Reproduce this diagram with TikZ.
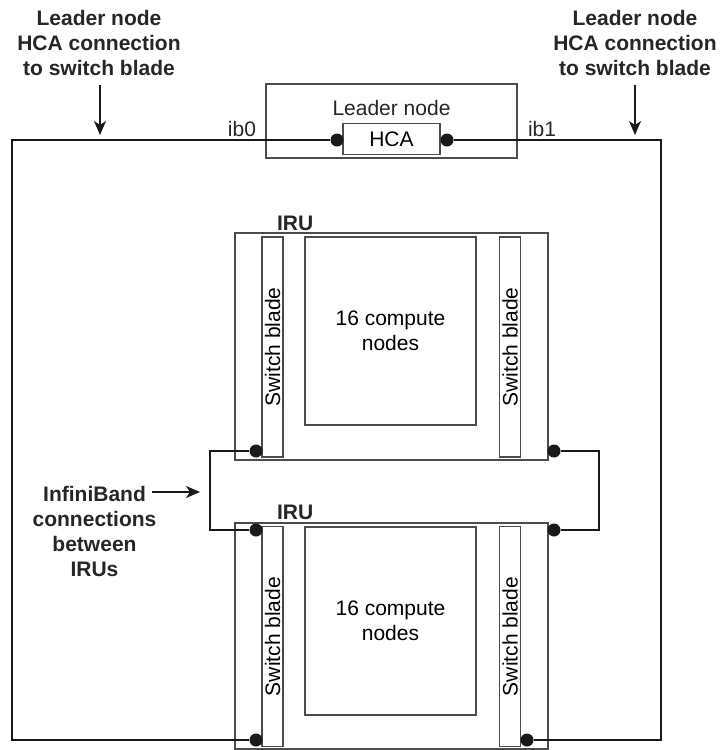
\documentclass[tikz,border=0pt]{standalone}
\usepackage{fontspec}
\setmainfont{Liberation Sans}
\usepackage{tikz}
\usetikzlibrary{arrows.meta,positioning,shapes,calc}

\tikzset{
  box/.style = {draw = black!70, line width = .6pt, inner sep = 0pt, font = \fontsize{10.5}{12.5}\selectfont, align = center},
  blade/.style = {box, rotate = 90, minimum width = 110pt, minimum height = 10.5pt},
  dot/.style = {circle, fill = black!90, inner sep = 0pt, minimum size = 6.5pt},
  wire/.style = {draw = black!90, line width = .75pt},
  arr/.style = {wire, -{Stealth[length = 7pt, width = 6pt, inset = 2pt]}},
  title/.style = {align = center, font = \fontsize{10.5}{12.5}\selectfont\bfseries, text = black!85},
  plain/.style = {font = \fontsize{10.5}{12.5}\selectfont, text = black!85}
}

\begin{document}
\begin{tikzpicture}[x = .5pt, y = -.5pt]
    \useasboundingbox (0,0) rectangle (719,750);
    % leader node with its HCA
    \node[box, minimum width = 125.5pt, minimum height = 37pt] (leader) at (391.5,121) {};
    \node[plain] (leadertxt) at (391.5,108) {Leader node};
    \node[box, minimum width = 48.5pt, minimum height = 15.5pt] (hca) at (391.5,139) {HCA};
    \node[dot] (ib0) at (337,140) {};
    \node[dot] (ib1) at (447,140) {};
    \node[plain, anchor = east] (ib0txt) at (263,129) {ib0};
    \node[plain, anchor = west] (ib1txt) at (521,129) {ib1};
    % upper IRU
    \node[box, minimum width = 156.5pt, minimum height = 113.5pt] (irua) at (391.5,346.5) {};
    \node[title, anchor = west] (iruatxt) at (270,223) {IRU};
    \node[blade] (bladeal) at (272.5,347) {Switch blade};
    \node[blade] (bladear) at (510,347) {Switch blade};
    \node[box, minimum width = 85.5pt, minimum height = 94pt] (compa) at (390.5,331) {16 compute\\nodes};
    \node[dot] (dotal) at (256,451) {};
    \node[dot] (dotar) at (554,451) {};
    % lower IRU
    \node[box, minimum width = 156.5pt, minimum height = 113pt] (irub) at (391.5,636) {};
    \node[title, anchor = west] (irubtxt) at (270,512) {IRU};
    \node[blade] (bladebl) at (272.5,636.5) {Switch blade};
    \node[blade] (bladebr) at (510,636.5) {Switch blade};
    \node[box, minimum width = 85.5pt, minimum height = 94pt] (compb) at (390.5,621) {16 compute\\nodes};
    \node[dot] (dotbl) at (256,530) {};
    \node[dot] (dotbr) at (554,530) {};
    \node[dot] (dotcl) at (256,740) {};
    \node[dot] (dotcr) at (527,740) {};
    % corners of the wiring
    \coordinate (tl) at (12,140);
    \coordinate (tr) at (661,140);
    \coordinate (bl) at (12,740);
    \coordinate (br) at (661,740);
    \coordinate (jl) at (210,490);
    \coordinate (jr) at (599,490);
    % wiring
    \draw[wire] (ib0) -- (tl) -- (bl) -- (dotcl);
    \draw[wire] (ib1) -- (tr) -- (br) -- (dotcr);
    \draw[wire] (dotal) -| (jl) |- (dotbl);
    \draw[wire] (dotar) -| (jr) |- (dotbr);
    % labels
    \node[title] (ltitle) at (99,43) {Leader node\\HCA connection\\to switch blade};
    \node[title] (rtitle) at (635,43) {Leader node\\HCA connection\\to switch blade};
    \node[title] (ibtitle) at (94.5,531) {InfiniBand\\connections\\between\\IRUs};
    \coordinate (ltail) at (100,85);
    \coordinate (ltip) at (100,135);
    \coordinate (rtail) at (635,85);
    \coordinate (rtip) at (635,135);
    \coordinate (ibtail) at (152,492);
    \coordinate (ibtip) at (200,492);
    \draw[arr] (ltail) -- (ltip);
    \draw[arr] (rtail) -- (rtip);
    \draw[arr] (ibtail) -- (ibtip);
\end{tikzpicture}
\end{document}
